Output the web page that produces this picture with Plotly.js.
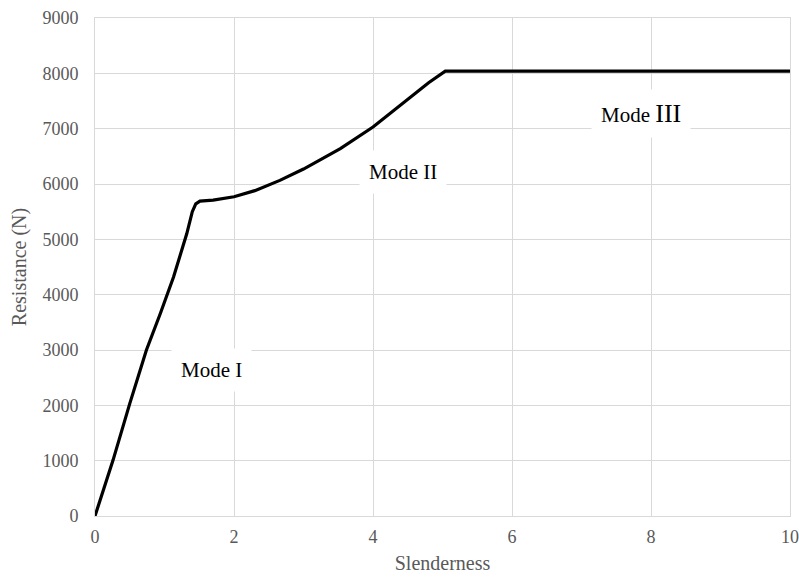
<!DOCTYPE html>
<html>
<head>
<meta charset="utf-8">
<script src="https://cdn.plot.ly/plotly-3.0.1.min.js"></script>
<style>html,body{margin:0;padding:0;background:#fff;}#chart{width:799px;height:577px;}</style>
</head>
<body>
<div id="chart"></div>
<script>
const slenderness = [0, 0.1, 0.26, 0.5, 0.74, 0.94, 1.13, 1.32, 1.40, 1.45, 1.51, 1.7, 2.0, 2.3, 2.66, 3.0, 3.53, 4.0, 4.48, 4.8, 5.04, 6, 8, 10];
const resistance = [0, 400, 1010, 2030, 3000, 3660, 4320, 5100, 5500, 5640, 5690, 5710, 5770, 5880, 6065, 6270, 6640, 7030, 7510, 7830, 8040, 8040, 8040, 8040];
const modeLabels = ["Mode I", "Mode II", "Mode <span style='font-size:26px'>III</span>"];
const modeX = [1.67, 4.43, 7.86];
const modeY = [2635, 6210, 7274];

const FONT = '"Liberation Serif", "Times New Roman", serif';
const GRID = '#d9d9d9';
const TXT = '#595959';

const trace = {
  x: slenderness, y: resistance, type: 'scatter', mode: 'lines',
  line: {color: '#000000', width: 3.2}, hoverinfo: 'skip', showlegend: false
};

const annotations = modeLabels.map((t, i) => ({
  x: modeX[i], y: modeY[i], xref: 'x', yref: 'y', text: t, showarrow: false,
  bgcolor: '#ffffff', borderpad: 9,
  font: {family: FONT, size: 21, color: '#000000'}
}));

const layout = {
  width: 799, height: 577,
  margin: {l: 95, r: 9, t: 18, b: 61},
  paper_bgcolor: '#ffffff', plot_bgcolor: '#ffffff',
  font: {family: FONT, color: TXT},
  xaxis: {
    range: [0, 10], tickvals: [0, 2, 4, 6, 8, 10], ticktext: ['0','2','4','6','8','10'],
    showgrid: true, gridcolor: GRID, gridwidth: 1, zeroline: false,
    showline: true, linecolor: GRID, linewidth: 1, mirror: true,
    ticks: '', ticklabelstandoff: 4,
    tickfont: {family: FONT, size: 18, color: TXT},
    title: {text: 'Slenderness', font: {family: FONT, size: 20, color: TXT}, standoff: 10}
  },
  yaxis: {
    range: [0, 9000], tickvals: [0,1000,2000,3000,4000,5000,6000,7000,8000,9000],
    ticktext: ['0','1000','2000','3000','4000','5000','6000','7000','8000','9000'],
    showgrid: true, gridcolor: GRID, gridwidth: 1, zeroline: false,
    showline: true, linecolor: GRID, linewidth: 1, mirror: true,
    ticks: '', ticklabelstandoff: 12,
    tickfont: {family: FONT, size: 18, color: TXT},
    title: {text: 'Resistance (N)', font: {family: FONT, size: 20, color: TXT}, standoff: 10}
  },
  annotations: annotations
};

Plotly.newPlot('chart', [trace], layout, {displayModeBar: false, staticPlot: true});
</script>
</body>
</html>
